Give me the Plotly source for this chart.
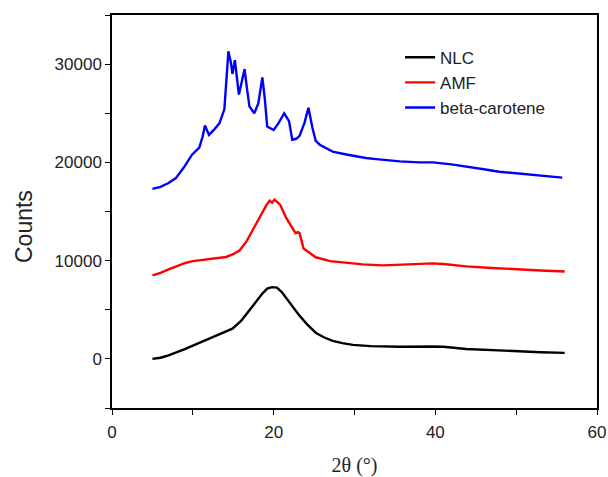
import plotly.graph_objects as go

# NLC (black)
nlc_x = [5, 6, 7, 8, 9, 10, 10.8, 12, 13, 14, 14.9, 16, 17, 17.8, 18.6, 19.2, 19.8, 20.4, 21, 21.5, 22.3, 23.2, 24.2, 25.2, 26.2, 27.3, 28.5, 29.8, 32, 35.6, 39.7, 41, 43.8, 47, 50, 53, 56]
nlc_y = [0, 120, 350, 650, 1000, 1350, 1640, 2050, 2450, 2800, 3070, 3900, 4900, 5800, 6650, 7150, 7300, 7250, 6800, 6250, 5400, 4400, 3450, 2660, 2200, 1840, 1600, 1430, 1300, 1230, 1260, 1230, 1000, 880, 750, 680, 610]

# AMF (red)
amf_x = [5, 6, 7, 8, 9, 10, 10.8, 12, 13, 14.1, 15, 15.8, 16.6, 17.4, 18.3, 19.1, 19.5, 19.8, 20.1, 20.4, 20.8, 21.5, 22.1, 22.7, 23.0, 23.2, 23.7, 24.4, 25.2, 27, 29.3, 31, 33.5, 36, 39.7, 41, 43.8, 47, 50, 53, 56]
amf_y = [8500, 8750, 9100, 9450, 9750, 9950, 10030, 10150, 10250, 10370, 10650, 11050, 11900, 13100, 14500, 15650, 16100, 15900, 16200, 15950, 15700, 14430, 13600, 12790, 12900, 12800, 11240, 10800, 10340, 9950, 9750, 9620, 9520, 9600, 9720, 9650, 9410, 9250, 9100, 9000, 8900]

# beta-carotene (blue)
bc_x = [5, 6, 7, 7.9, 8.9, 9.9, 10.8, 11.2, 11.5, 12.0, 12.6, 13.3, 13.9, 14.2, 14.4, 14.7, 14.9, 15.2, 15.5, 15.7, 16.0, 16.4, 16.7, 17.0, 17.6, 18.1, 18.6, 18.9, 19.2, 19.6, 20.0, 20.6, 21.3, 21.9, 22.3, 22.8, 23.2, 23.8, 24.3, 24.8, 25.2, 25.7, 27.3, 29, 31.4, 33, 35.6, 38, 39.7, 42, 43.8, 46, 47.9, 50, 52, 54, 55.7]
bc_y = [17300, 17500, 17900, 18400, 19500, 20780, 21500, 22600, 23750, 22800, 23300, 24000, 25400, 28500, 31300, 30200, 29000, 30400, 28500, 26900, 28000, 29500, 27500, 25700, 25000, 26000, 28650, 26500, 23650, 23500, 23300, 24000, 25000, 24200, 22300, 22400, 22700, 24000, 25550, 23500, 22200, 21800, 21100, 20800, 20450, 20300, 20100, 20000, 20000, 19800, 19600, 19300, 19050, 18900, 18700, 18550, 18450]

x_ticks = [0, 20, 40, 60]
y_ticks = [0, 10000, 20000, 30000]

fig = go.Figure()
fig.add_trace(go.Scatter(x=nlc_x, y=nlc_y, mode="lines", name="NLC",
                         line=dict(color="black", width=2.4)))
fig.add_trace(go.Scatter(x=amf_x, y=amf_y, mode="lines", name="AMF",
                         line=dict(color="red", width=2.4)))
fig.add_trace(go.Scatter(x=bc_x, y=bc_y, mode="lines", name="beta-carotene",
                         line=dict(color="blue", width=2.4)))

axis_common = dict(showline=True, linecolor="black", linewidth=1.5, mirror=True,
                   showgrid=False, zeroline=False, ticks="outside", ticklen=5,
                   tickcolor="black", tickwidth=1.2, automargin=False,
                   tickfont=dict(family="Liberation Sans, Arial", size=17, color="#222"))

fig.update_xaxes(range=[0, 60], tickvals=x_ticks, ticktext=[str(v) for v in x_ticks],
                 minor=dict(dtick=10, tick0=0, ticks="outside", ticklen=5, tickcolor="black"),
                 ticklabelstandoff=3,
                 title=dict(text="2θ (°)", font=dict(family="Liberation Serif, Times New Roman", size=20, color="#222"), standoff=19),
                 **axis_common)
fig.update_yaxes(range=[-5000, 35000], tickvals=y_ticks, ticktext=[str(v) for v in y_ticks],
                 minor=dict(dtick=5000, tick0=0, ticks="outside", ticklen=5, tickcolor="black"),
                 **axis_common)

fig.add_annotation(text="Counts", textangle=-90, xref="paper", yref="paper",
                   x=-0.1814, y=0.4606, xanchor="center", yanchor="middle", showarrow=False,
                   font=dict(family="Liberation Sans, Arial", size=23, color="#222"))

fig.update_layout(
    width=608, height=477,
    margin=dict(l=112, r=11, t=15, b=69),
    paper_bgcolor="white", plot_bgcolor="white",
    legend=dict(x=0.594, y=0.937, xanchor="left", yanchor="top",
                bgcolor="rgba(0,0,0,0)", font=dict(family="Liberation Sans, Arial", size=17, color="#222"),
                tracegroupgap=0),
    showlegend=True,
)

fig.write_html("out.html", config={"displayModeBar": False},
               post_script="document.body.style.margin='0';document.body.style.padding='0';")
